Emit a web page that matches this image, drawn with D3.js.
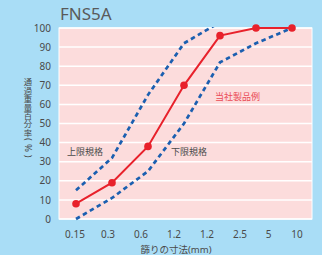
<!DOCTYPE html>
<html><head><meta charset="utf-8">
<script src="https://cdn.jsdelivr.net/npm/d3@7"></script>
<style>
html,body{margin:0;padding:0;background:#a9ddf6;}
svg{display:block;}
text{font-family:"Noto Sans","Noto Sans CJK JP",sans-serif;}
.vt{writing-mode:vertical-rl;text-orientation:upright;font-family:"Noto Sans CJK JP",sans-serif;}
</style></head><body>
<script>
const title = "FNS5A";
const categories = ["0.15","0.3","0.6","1.2","2.5","5","10"];
const productValues = [8,19,38,70,96,100,100];
const upperValues = [15,32,65,92,103];
const lowerValues = [0,11,25,50,82,92,100];
const xTickLabels = ["0.15","0.3","0.6","1.2","1.2","2.5","5","10"];
const yTicks = [0,10,20,30,40,50,60,70,80,90,100];
const yTitleMain = "通過重量百分率";
const yTitleUnit = "(%)";
const xTitle = "篩りの寸法(mm)";
const notes = [{t:"上限規格",c:"0.15",v:35,dx:-9,col:"#4a4a4a"},{t:"下限規格",c:"1.2",v:35,dx:-13,col:"#4a4a4a"},{t:"当社製品例",c:"2.5",v:64,dx:-5,col:"#ea4a55"}];

const W=322,H=255, L=59,R=312,T=28,B=219;
const svg=d3.select("body").append("svg").attr("width",W).attr("height",H);
svg.append("rect").attr("width",W).attr("height",H).attr("fill","#a9ddf6");

const x=d3.scalePoint().domain(categories).range([L+17,R-20]);
const y=d3.scaleLinear().domain([0,100]).range([B,T]);
const xl=d3.scaleLinear().domain([0,5,7]).range([75,240,297]);

svg.append("rect").attr("x",L).attr("y",T).attr("width",R-L).attr("height",B-T)
  .attr("fill","#fcdcdc").attr("stroke","#ffffff").attr("stroke-width",1);
svg.append("g").selectAll("line").data(yTicks).join("line")
  .attr("x1",L).attr("x2",R).attr("y1",d=>y(d)).attr("y2",d=>y(d))
  .attr("stroke","#ffffff").attr("stroke-width",1.5);

svg.append("text").attr("x",60).attr("y",20).attr("font-size",17).attr("fill","#5a5a5a").text(title);

svg.append("g").selectAll("text").data(yTicks).join("text")
  .attr("x",51).attr("y",d=>y(d)).attr("dy","0.36em").attr("text-anchor","end")
  .attr("font-size",10).attr("fill","#4a4a4a").text(d=>d);

svg.append("g").selectAll("text").data(xTickLabels).join("text")
  .attr("x",(d,i)=>xl(i)).attr("y",238).attr("text-anchor","middle")
  .attr("font-size",10).attr("fill","#4a4a4a").text(d=>d);

svg.append("text").attr("x",176).attr("y",253).attr("text-anchor","middle")
  .attr("font-size",9.5).attr("fill","#4a4a4a").text(xTitle);

// vertical y-axis title
svg.append("text").attr("class","vt").attr("x",28).attr("y",78)
  .attr("font-size",8.4).attr("fill","#4a4a4a").text(yTitleMain);
svg.append("text").attr("transform","translate(24.5,138) rotate(90)")
  .attr("font-size",9.6).attr("letter-spacing",3).attr("fill","#4a4a4a").text(yTitleUnit);

svg.append("defs").append("clipPath").attr("id","clipTop").append("rect")
  .attr("x",0).attr("y",27).attr("width",W).attr("height",H);

const line=d3.line().x((d,i)=>x(categories[i])).y(d=>y(d));
svg.append("path").datum(upperValues).attr("d",line).attr("fill","none")
  .attr("stroke","#1b5fb0").attr("stroke-width",2.7).attr("stroke-dasharray","4.5,3.5")
  .attr("clip-path","url(#clipTop)");
svg.append("path").datum(lowerValues).attr("d",line).attr("fill","none")
  .attr("stroke","#1b5fb0").attr("stroke-width",2.7).attr("stroke-dasharray","4.5,3.5");

svg.append("path").datum(productValues).attr("d",line).attr("fill","none")
  .attr("stroke","#e8212b").attr("stroke-width",2);
svg.append("g").selectAll("circle").data(productValues).join("circle")
  .attr("cx",(d,i)=>x(categories[i])).attr("cy",d=>y(d)).attr("r",3.8).attr("fill","#e8212b");

svg.append("g").selectAll("text").data(notes).join("text")
  .attr("x",d=>x(d.c)+d.dx).attr("y",d=>y(d.v)).attr("dy","0.36em")
  .attr("font-size",9).attr("fill",d=>d.col).text(d=>d.t);
</script>
</body></html>
